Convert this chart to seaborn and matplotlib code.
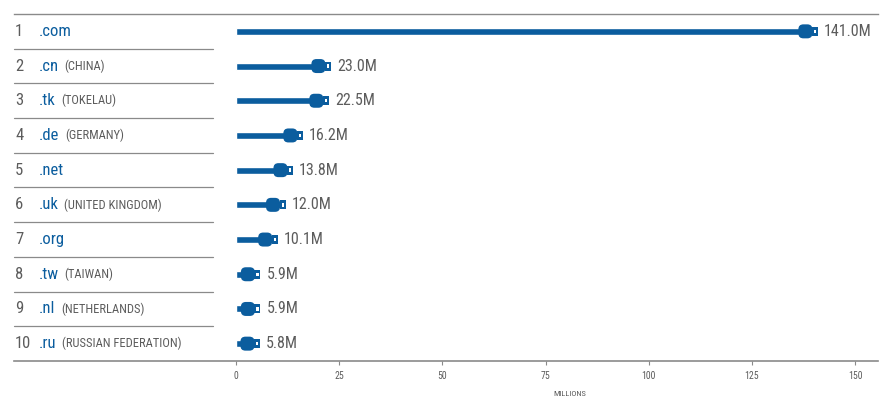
import matplotlib.pyplot as plt
import pandas as pd
import seaborn as sns
from matplotlib import font_manager
from matplotlib.patches import FancyBboxPatch, Rectangle

ranks = [1, 2, 3, 4, 5, 6, 7, 8, 9, 10]
domains = [".com", ".cn", ".tk", ".de", ".net", ".uk", ".org", ".tw", ".nl", ".ru"]
countries = ["", "(CHINA)", "(TOKELAU)", "(GERMANY)", "", "(UNITED KINGDOM)", "",
             "(TAIWAN)", "(NETHERLANDS)", "(RUSSIAN FEDERATION)"]
values = [141.0, 23.0, 22.5, 16.2, 13.8, 12.0, 10.1, 5.9, 5.9, 5.8]
ticks = [0, 25, 50, 75, 100, 125, 150]

BLUE = "#0b5d9e"
GREY = "#5c5c5c"
LINE = "#8a8a8a"

names = {f.name for f in font_manager.fontManager.ttflist}
fam = [f for f in ["Roboto Condensed", "Liberation Sans Narrow", "DejaVu Sans Condensed"] if f in names]
sns.set_style("white")
plt.rcParams['font.family'] = fam + ["DejaVu Sans"]

df = pd.DataFrame({"domain": domains, "value": values})

fig = plt.figure(figsize=(8.93, 4), dpi=100)
ax = fig.add_axes([14 / 893, 1 - 361 / 400, 864 / 893, 347 / 400])

# cable
sns.barplot(data=df, x="value", y="domain", orient="h", width=0.2, color=BLUE,
            saturation=1, ax=ax, zorder=2)

px = 150 / 619       # x data units per pixel
py = 10 / 347        # y data units per pixel
xmin = -222 * px
xmax = 150 + 23 * px
ax.set_xlim(xmin, xmax)
ax.set_ylim(9.5, -0.5)

# plug heads
for i, v in enumerate(values):
    bw, bh = 14 * px, 14 * py
    bx = v - 5.5 * px - bw
    blob = FancyBboxPatch((bx, i - bh / 2), bw, bh,
                          boxstyle=f"round,pad=0,rounding_size={5 * px}",
                          mutation_aspect=py / px, fc=BLUE, ec="none", zorder=3)
    ax.add_patch(blob)
    ax.add_patch(Rectangle((v - 6 * px, i - 4.5 * py), 6 * px, 9 * py,
                           fc=BLUE, ec="none", zorder=4))
    ax.add_patch(Rectangle((v - 4 * px, i - 1.7 * py), 2.5 * px, 3.4 * py,
                           fc="white", ec="none", zorder=5))
    ax.annotate(f"{v:.1f}M", xy=(v, i), xytext=(4.5, 0), textcoords="offset points",
                va="center", ha="left", fontsize=11.5, color=GREY)

# row labels
for i in range(10):
    ax.text(-221 * px, i, str(ranks[i]), fontsize=12, color=GREY, va="center", ha="left")
    t = ax.text(-197 * px, i, domains[i], fontsize=12, color=BLUE, va="center", ha="left")
    if countries[i]:
        ax.annotate(countries[i], xy=(1, 0.5), xycoords=t, xytext=(4, 0),
                    textcoords="offset points", va="center", ha="left",
                    fontsize=9, color=GREY)

# separators
for i in range(9):
    ax.plot([xmin, -23 * px], [i + 0.5, i + 0.5], color=LINE, lw=0.9, clip_on=False)

for s in ["left", "right"]:
    ax.spines[s].set_visible(False)
ax.spines["top"].set_color(LINE)
ax.spines["bottom"].set_color(LINE)
ax.spines["top"].set_linewidth(1)
ax.spines["bottom"].set_linewidth(1.2)

ax.set_yticks([])
ax.set_ylabel("")
ax.set_xticks(ticks)
ax.tick_params(axis="x", direction="out", length=3, width=0.8, color=LINE,
               labelsize=7, labelcolor=GREY, pad=4, bottom=True)
ax.set_xlabel("")
ax.text((570 - 236) * px, -0.095, "MILLIONS", transform=ax.get_xaxis_transform(),
        ha="center", va="center", fontsize=6, color=GREY)

fig.savefig("out.png", dpi=100)
